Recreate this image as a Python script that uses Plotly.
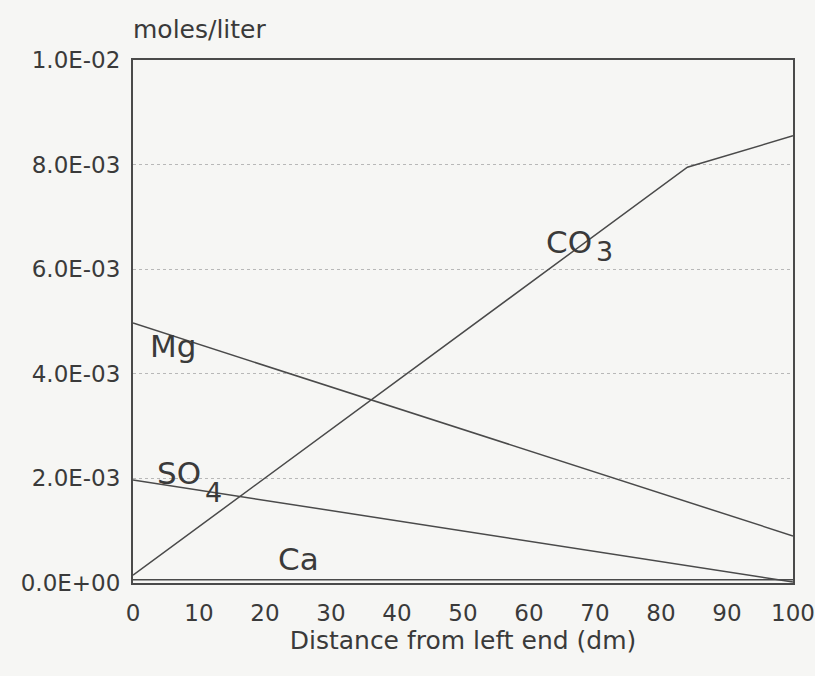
import plotly.graph_objects as go

distance = [0, 84, 100]
co3 = [0.00015, 0.00795, 0.00855]
mg_x = [0, 100]
mg = [0.00497, 0.00090]
so4_x = [0, 100]
so4 = [0.00197, 0.00002]
ca_x = [0, 100]
ca = [0.00006, 0.00006]

y_tickvals = [0, 0.002, 0.004, 0.006, 0.008, 0.010]
y_ticktext = ["0.0E+00", "2.0E-03", "4.0E-03", "6.0E-03", "8.0E-03", "1.0E-02"]
x_tickvals = [0, 10, 20, 30, 40, 50, 60, 70, 80, 90, 100]

# (main text, subscript, x where main ends / centre, y, subscript shift)
labels = [("CO", "3", 69.8, 0.00652, -9),
          ("Mg", "", 6.1, 0.00453, 0),
          ("SO", "4", 10.6, 0.00210, -19),
          ("Ca", "", 25.0, 0.00046, 0)]

line_col = "#4a4a4a"
txt_col = "#3a3a3a"
bg = "#f6f6f4"
font_fam = "DejaVu Sans"
lab_size = 31

fig = go.Figure()
for xs, ys in [(distance, co3), (mg_x, mg), (so4_x, so4), (ca_x, ca)]:
    fig.add_trace(go.Scatter(x=xs, y=ys, mode="lines",
                             line=dict(color=line_col, width=1.5),
                             showlegend=False, hoverinfo="skip"))

for main, sub, x, y, sub_shift in labels:
    if sub:
        fig.add_annotation(x=x, y=y, text=main, showarrow=False, xanchor="right",
                           font=dict(family=font_fam, size=lab_size, color=txt_col))
        fig.add_annotation(x=x, y=y, text=sub, showarrow=False, xanchor="left",
                           yshift=sub_shift, xshift=0,
                           font=dict(family=font_fam, size=lab_size - 4, color=txt_col))
    else:
        fig.add_annotation(x=x, y=y, text=main, showarrow=False, xanchor="center",
                           font=dict(family=font_fam, size=lab_size, color=txt_col))

fig.add_annotation(xref="paper", yref="paper", x=0.1015, y=1.0, yshift=47,
                   text="moles/liter", showarrow=False, xanchor="center",
                   font=dict(family=font_fam, size=25, color=txt_col))

fig.update_layout(
    width=815, height=676,
    margin=dict(l=133, r=22, t=60, b=93),
    paper_bgcolor=bg, plot_bgcolor=bg,
    font=dict(family=font_fam, size=23, color=txt_col),
)
fig.update_xaxes(range=[0, 100], tickvals=x_tickvals, showgrid=False,
                 zeroline=False, showline=True, mirror=True, automargin=False,
                 linecolor=line_col, linewidth=2,
                 ticks="outside", ticklen=8, tickcolor=bg,
                 tickfont=dict(family=font_fam, size=23, color=txt_col),
                 title=dict(text="Distance from left end (dm)", standoff=4,
                            font=dict(family=font_fam, size=25, color=txt_col)))
fig.update_yaxes(range=[0, 0.01], tickvals=y_tickvals, ticktext=y_ticktext,
                 showgrid=True, gridcolor="#b8b8b8", griddash="dot", gridwidth=1,
                 zeroline=False, showline=True, mirror=True, automargin=False,
                 linecolor=line_col, linewidth=2,
                 ticks="outside", ticklen=6, tickcolor=bg,
                 tickfont=dict(family=font_fam, size=23, color=txt_col))

fig.write_html("out.html")
